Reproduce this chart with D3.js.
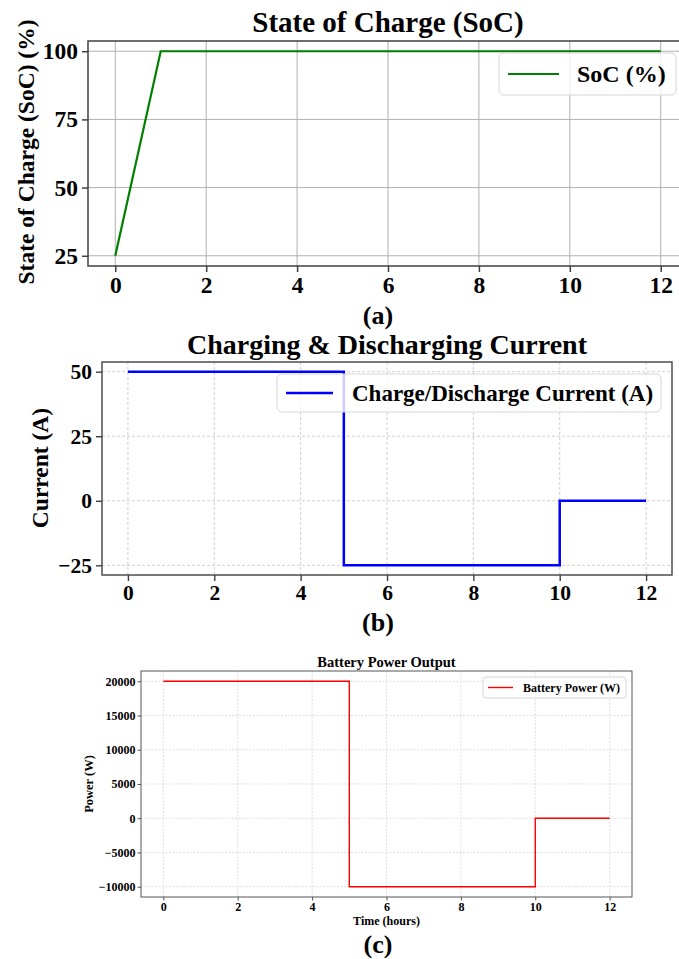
<!DOCTYPE html>
<html>
<head>
<meta charset="utf-8">
<script src="https://cdn.jsdelivr.net/npm/d3@7"></script>
<style>
body { margin: 0; background: #fff; }
text { font-family: "Liberation Serif", "Times New Roman", serif; font-weight: bold; fill: #000; }
</style>
</head>
<body>
<svg id="fig" width="679" height="959"></svg>
<script>
// data (hourly)
var hours = [0, 1, 2, 3, 4, 5, 6, 7, 8, 9, 10, 11, 12];
var socPct = [25, 100, 100, 100, 100, 100, 100, 100, 100, 100, 100, 100, 100];
var currentA = [50, 50, 50, 50, 50, -25, -25, -25, -25, -25, 0, 0, 0];
var powerW = [20000, 20000, 20000, 20000, 20000, -10000, -10000, -10000, -10000, -10000, 0, 0, 0];

var xTicks = [0, 2, 4, 6, 8, 10, 12];
var socTicks = [25, 50, 75, 100];
var currentTicks = [-25, 0, 25, 50];
var powerTicks = [-10000, -5000, 0, 5000, 10000, 15000, 20000];

var svg = d3.select("#fig");
svg.append("rect").attr("width", 679).attr("height", 959).attr("fill", "#fff");

// matplotlib style 5% margins
function pad(lo, hi) {
  var m = (hi - lo) * 0.05;
  return [lo - m, hi + m];
}

function panel(o) {
  var x = d3.scaleLinear().domain(pad(0, 12)).range([o.left, o.right]);
  var y = d3.scaleLinear().domain(pad(d3.min(o.ys), d3.max(o.ys))).range([o.bottom, o.top]);
  var g = svg.append("g");

  // grid
  var grid = g.append("g")
      .attr("stroke", o.gridColor)
      .attr("stroke-width", o.gridWidth)
      .attr("stroke-dasharray", o.gridDash);
  grid.selectAll(".gx").data(xTicks).enter().append("line")
      .attr("x1", function(d) { return x(d); }).attr("x2", function(d) { return x(d); })
      .attr("y1", o.top).attr("y2", o.bottom);
  grid.selectAll(".gy").data(o.yTicks).enter().append("line")
      .attr("y1", function(d) { return y(d); }).attr("y2", function(d) { return y(d); })
      .attr("x1", o.left).attr("x2", o.right);

  // the series
  var line = d3.line()
      .x(function(d, i) { return x(hours[i]); })
      .y(function(d) { return y(d); })
      .curve(o.curve);
  g.append("path")
      .datum(o.ys)
      .attr("fill", "none")
      .attr("stroke", o.color)
      .attr("stroke-width", o.lineWidth)
      .attr("d", line);

  // frame
  g.append("rect")
      .attr("x", o.left).attr("y", o.top)
      .attr("width", o.right - o.left).attr("height", o.bottom - o.top)
      .attr("fill", "none").attr("stroke", o.spine).attr("stroke-width", o.spineWidth);

  // axes
  var ax = g.append("g").attr("transform", "translate(0," + o.bottom + ")")
      .call(d3.axisBottom(x).tickValues(xTicks).tickSize(o.tickLen).tickPadding(o.tickPad).tickFormat(d3.format("d")));
  var ay = g.append("g").attr("transform", "translate(" + o.left + ",0)")
      .call(d3.axisLeft(y).tickValues(o.yTicks).tickSize(o.tickLen).tickPadding(o.tickPad).tickFormat(d3.format("d")));
  [ax, ay].forEach(function(a) {
    a.select(".domain").remove();
    a.selectAll(".tick line").attr("stroke", o.spine).attr("stroke-width", o.spineWidth);
    a.selectAll(".tick text").attr("font-size", o.tickFont).attr("font-family", null).attr("fill", "#000");
  });

  // title
  g.append("text")
      .attr("x", (o.left + o.right) / 2).attr("y", o.titleY)
      .attr("text-anchor", "middle").attr("font-size", o.titleFont)
      .text(o.title);

  // y label
  g.append("text")
      .attr("transform", "translate(" + o.ylabelX + "," + o.ylabelY + ") rotate(-90)")
      .attr("text-anchor", "middle").attr("dominant-baseline", "central")
      .attr("font-size", o.labelFont)
      .text(o.ylabel);

  if (o.xlabel) {
    g.append("text")
        .attr("x", (o.left + o.right) / 2).attr("y", o.xlabelY)
        .attr("text-anchor", "middle").attr("font-size", o.xlabelFont)
        .text(o.xlabel);
  }

  // legend
  var L = o.legend;
  var lg = g.append("g");
  lg.append("rect")
      .attr("x", L.x).attr("y", L.y).attr("width", L.w).attr("height", L.h)
      .attr("rx", L.r).attr("fill", "#fff").attr("fill-opacity", 0.8)
      .attr("stroke", "#d6d6d6").attr("stroke-width", 1);
  lg.append("line")
      .attr("x1", L.x + L.lx1).attr("x2", L.x + L.lx2)
      .attr("y1", L.y + L.h / 2).attr("y2", L.y + L.h / 2)
      .attr("stroke", o.color).attr("stroke-width", o.lineWidth);
  lg.append("text")
      .attr("x", L.x + L.tx).attr("y", L.y + L.h / 2)
      .attr("dominant-baseline", "central").attr("font-size", L.font)
      .text(o.name);

  // panel tag
  svg.append("text")
      .attr("x", 378).attr("y", o.tagY)
      .attr("text-anchor", "middle").attr("font-size", 26)
      .text(o.tag);
}

panel({
  ys: socPct, yTicks: socTicks, curve: d3.curveLinear,
  left: 88, right: 688, top: 41, bottom: 266,
  color: "#008000", lineWidth: 2.2, name: "SoC (%)",
  gridColor: "#b0b0b0", gridWidth: 1, gridDash: null,
  spine: "#404040", spineWidth: 1.5, tickLen: 6, tickPad: 4, tickFont: 23.5,
  title: "State of Charge (SoC)", titleY: 32, titleFont: 29,
  ylabel: "State of Charge (SoC) (%)", ylabelX: 26, ylabelY: 152, labelFont: 23.5,
  legend: { x: 499, y: 53, w: 177, h: 42, r: 5, lx1: 9, lx2: 60, tx: 78, font: 24 },
  tag: "(a)", tagY: 324
});

panel({
  ys: currentA, yTicks: currentTicks, curve: d3.curveStepAfter,
  left: 102, right: 672, top: 362, bottom: 575,
  color: "#0000ff", lineWidth: 2.5, name: "Charge/Discharge Current (A)",
  gridColor: "#c4c4c4", gridWidth: 0.8, gridDash: "3,2",
  spine: "#404040", spineWidth: 1.4, tickLen: 6, tickPad: 4, tickFont: 21.5,
  title: "Charging & Discharging Current", titleY: 354, titleFont: 28,
  ylabel: "Current (A)", ylabelX: 40, ylabelY: 468, labelFont: 23.5,
  legend: { x: 277, y: 374, w: 384, h: 38, r: 5, lx1: 9, lx2: 56, tx: 75, font: 23 },
  tag: "(b)", tagY: 631
});

panel({
  ys: powerW, yTicks: powerTicks, curve: d3.curveStepAfter,
  left: 141, right: 632, top: 671, bottom: 897,
  color: "#ff0000", lineWidth: 1.4, name: "Battery Power (W)",
  gridColor: "#d0d0d0", gridWidth: 0.7, gridDash: "2,1.5",
  spine: "#555", spineWidth: 1, tickLen: 3.5, tickPad: 2, tickFont: 12,
  title: "Battery Power Output", titleY: 667, titleFont: 14.5,
  ylabel: "Power (W)", ylabelX: 89, ylabelY: 784, labelFont: 12.5,
  xlabel: "Time (hours)", xlabelY: 925, xlabelFont: 12,
  legend: { x: 483, y: 677, w: 143, h: 21, r: 3, lx1: 5, lx2: 30, tx: 40, font: 12 },
  tag: "(c)", tagY: 953
});
</script>
</body>
</html>
